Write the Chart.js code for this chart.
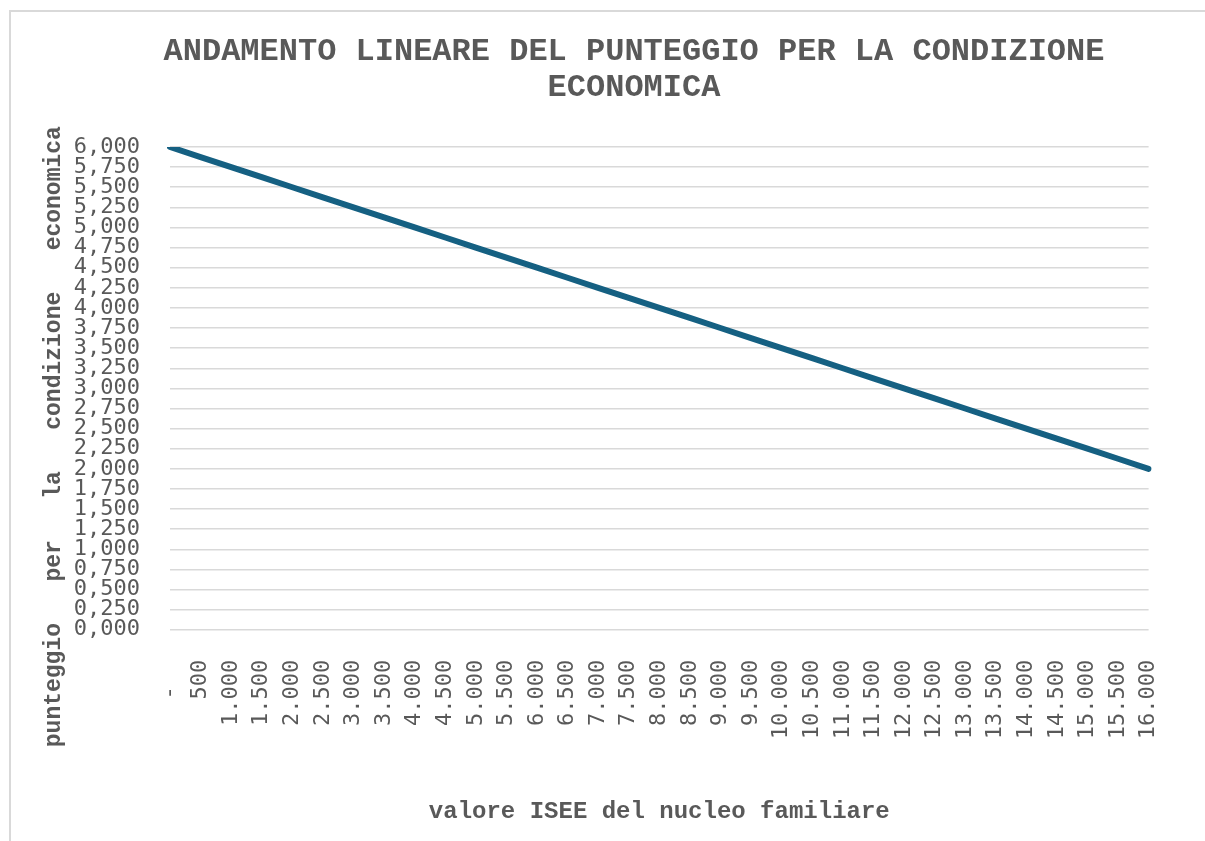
<!DOCTYPE html>
<html>
<head>
<meta charset="UTF-8">
<title>Andamento lineare del punteggio</title>
<script src="https://cdn.jsdelivr.net/npm/chart.js@4"></script>
<style>
  body { margin: 0; background: #fff; overflow: hidden; }
  #frame { position: absolute; left: 9px; top: 10px; width: 1300px; height: 900px; border: 2px solid #d9d9d9; }
  #myChart { position: absolute; left: 0; top: 0; }
</style>
</head>
<body>
<div id="frame"></div>
<canvas id="myChart" width="1205" height="841"></canvas>
<script>
// valore ISEE (categorie asse x)
var iseeLabels = ['-  ', '500', '1.000', '1.500', '2.000', '2.500', '3.000', '3.500', '4.000',
  '4.500', '5.000', '5.500', '6.000', '6.500', '7.000', '7.500', '8.000', '8.500', '9.000',
  '9.500', '10.000', '10.500', '11.000', '11.500', '12.000', '12.500', '13.000', '13.500',
  '14.000', '14.500', '15.000', '15.500', '16.000'];

// punteggio
var punteggio = [6.000, 5.875, 5.750, 5.625, 5.500, 5.375, 5.250, 5.125, 5.000,
  4.875, 4.750, 4.625, 4.500, 4.375, 4.250, 4.125, 4.000, 3.875, 3.750,
  3.625, 3.500, 3.375, 3.250, 3.125, 3.000, 2.875, 2.750, 2.625,
  2.500, 2.375, 2.250, 2.125, 2.000];

var yMin = 0, yMax = 6, yStep = 0.25;

var grey = '#595959';
var mono = "'DejaVu Sans Mono', monospace";
var courier = "'Liberation Mono', 'Courier New', monospace";

var ctx = document.getElementById('myChart').getContext('2d');
var chart = new Chart(ctx, {
  type: 'line',
  data: {
    labels: iseeLabels,
    datasets: [{
      label: 'punteggio',
      data: punteggio,
      borderColor: '#156082',
      backgroundColor: '#156082',
      borderWidth: 6,
      borderCapStyle: 'round',
      pointRadius: 0,
      tension: 0,
      fill: false
    }]
  },
  options: {
    responsive: false,
    animation: false,
    layout: { padding: { left: 63, right: 0, top: 0, bottom: 0 } },
    plugins: {
      legend: { display: false },
      tooltip: { enabled: false },
      title: {
        display: true,
        text: ['ANDAMENTO LINEARE DEL PUNTEGGIO PER LA CONDIZIONE', 'ECONOMICA'],
        color: grey,
        font: { family: courier, size: 32, weight: 'bold', lineHeight: 1.125 },
        padding: { top: 34, bottom: 41 }
      }
    },
    scales: {
      x: {
        offset: false,
        grid: { display: false, drawTicks: false },
        border: { display: false },
        ticks: {
          color: grey,
          font: { family: mono, size: 22 },
          minRotation: 90,
          maxRotation: 90,
          autoSkip: false,
          padding: 30
        },
        title: {
          display: true,
          text: 'valore ISEE del nucleo familiare',
          color: grey,
          font: { family: courier, size: 24, weight: 'bold' },
          padding: { top: 28, bottom: 15 }
        }
      },
      y: {
        min: yMin,
        max: yMax,
        afterFit: function(scale) { scale.width = 107; },
        grid: { color: '#d9d9d9', lineWidth: 1.5, drawTicks: false },
        border: { display: false },
        ticks: {
          stepSize: yStep,
          autoSkip: false,
          color: grey,
          font: { family: mono, size: 22 },
          padding: 30,
          callback: function(v) { return v.toFixed(3).replace('.', ','); }
        },
        title: {
          display: true,
          // trailing spaces push the text down like Excel does (centred on plot + labels)
          text: 'punteggio   per   la   condizione   economica       ',
          color: grey,
          font: { family: courier, size: 23, weight: 'bold' },
          padding: { top: -23, bottom: 0 }
        }
      },
      yRight: {
        position: 'right',
        display: true,
        afterFit: function(scale) { scale.width = 51; },
        grid: { display: false, drawTicks: false },
        border: { display: false },
        ticks: { display: false }
      }
    }
  }
});
</script>
</body>
</html>
